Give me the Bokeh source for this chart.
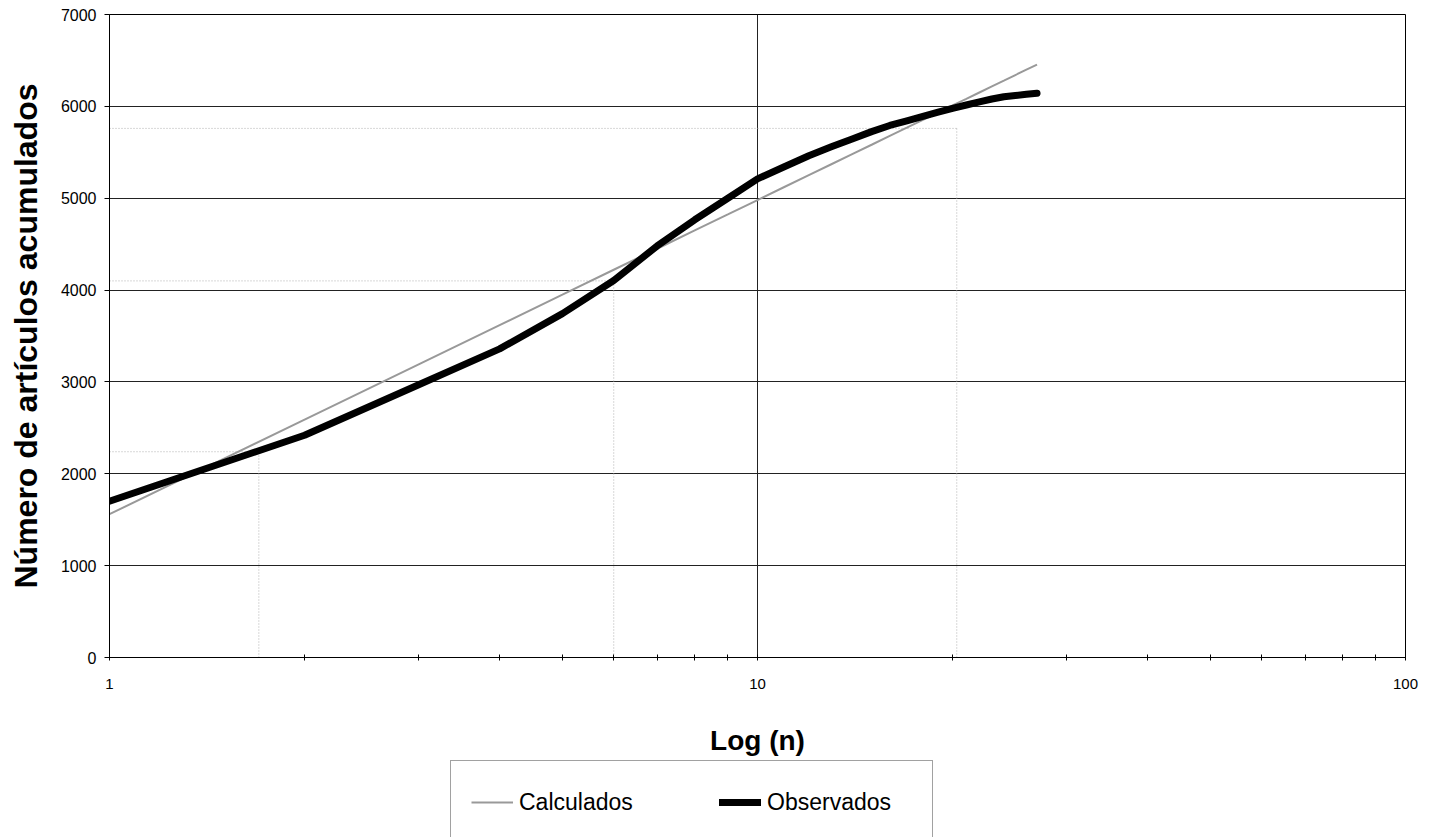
from bokeh.plotting import figure
from bokeh.models import Range1d, FixedTicker, Legend, LegendItem
from bokeh.layouts import column
from bokeh.embed import file_html
from bokeh.resources import INLINE

# ---- data ----
n_values = list(range(1, 28))
observados = [1701, 2420, 2970, 3360, 3744, 4104, 4480, 4765, 5000, 5211,
              5342, 5462, 5560, 5645, 5725, 5792, 5843, 5892, 5937, 5979,
              6015, 6048, 6080, 6105, 6118, 6131, 6143]
calculados = [1560, 2590, 3192, 3619, 3950, 4221, 4450, 4649, 4823, 4980,
              5122, 5251, 5370, 5480, 5582, 5678, 5768, 5853, 5933, 6010,
              6082, 6151, 6217, 6280, 6341, 6399, 6455]
ref_n = [1.7, 6.0, 20.3]
ref_y = [2240, 4100, 5760]
ref_x_start = [1, 1, 1]
ref_y_start = [0, 0, 0]
x_ticks = [1, 10, 100]
x_minor_ticks = [2, 3, 4, 5, 6, 7, 8, 9, 20, 30, 40, 50, 60, 70, 80, 90]
y_ticks = [0, 1000, 2000, 3000, 4000, 5000, 6000, 7000]
series_names = ["Calculados", "Observados"]

FONT = "Liberation Sans"
MAIN_H = 758

p = figure(width=1434, height=MAIN_H, x_axis_type="log",
           x_range=Range1d(1, 100), y_range=Range1d(0, 7000),
           output_backend="svg", toolbar_location=None,
           min_border_left=109, min_border_right=29,
           min_border_top=14, min_border_bottom=MAIN_H - 657)

p.outline_line_color = "black"
p.outline_line_width = 1
p.background_fill_color = "white"
p.border_fill_color = "white"

# axes
p.xaxis.ticker = FixedTicker(ticks=x_ticks, minor_ticks=x_minor_ticks)
p.yaxis.ticker = FixedTicker(ticks=y_ticks)
p.xaxis.major_label_overrides = {1: "1", 10: "10", 100: "100"}
for ax in (p.xaxis, p.yaxis):
    ax.axis_line_color = "black"
    ax.major_tick_line_color = "black"
    ax.minor_tick_line_color = "black"
    ax.major_label_text_font = FONT
    ax.major_label_text_color = "black"
    ax.axis_label_text_font = FONT
    ax.axis_label_text_font_style = "bold"
    ax.axis_label_text_color = "black"

p.xaxis.major_label_text_font_size = "15px"
p.xaxis.major_tick_in = 3
p.xaxis.major_tick_out = 3
p.xaxis.minor_tick_in = 3
p.xaxis.minor_tick_out = 3
p.xaxis.major_label_standoff = 18
p.xaxis.axis_label = "Log (n)"
p.xaxis.axis_label_text_font_size = "28px"
p.xaxis.axis_label_standoff = 33

p.yaxis.major_label_text_font_size = "16px"
p.yaxis.major_tick_in = 0
p.yaxis.major_tick_out = 5
p.yaxis.minor_tick_line_color = None
p.yaxis.major_label_standoff = 8
p.yaxis.axis_label = "Número de artículos acumulados"
p.yaxis.axis_label_text_font_size = "32px"
p.yaxis.axis_label_standoff = 14

# grid
p.xgrid.ticker = FixedTicker(ticks=[10])
p.xgrid.grid_line_color = "#222222"
p.ygrid.ticker = FixedTicker(ticks=y_ticks)
p.ygrid.grid_line_color = "#222222"

# dotted reference lines
p.segment(x0=ref_n, y0=ref_y_start, x1=ref_n, y1=ref_y,
          line_color="#b0b0b0", line_width=1, line_dash="1 2")
p.segment(x0=ref_x_start, y0=ref_y, x1=ref_n, y1=ref_y,
          line_color="#b0b0b0", line_width=1, line_dash="1 2")

# series
calc_style = dict(line_color="#999999", line_width=2)
obs_style = dict(line_color="black", line_width=7, line_cap="round", line_join="round")
p.line(n_values, calculados, **calc_style)
p.line(n_values, observados, **obs_style)

# ---- legend strip below the chart (its own canvas, so it is not clipped) ----
LEG_H = 837 - MAIN_H
p2 = figure(width=1434, height=LEG_H, output_backend="svg", toolbar_location=None,
            x_axis_type="log", x_axis_location=None, y_axis_location=None,
            min_border_left=0, min_border_right=0, min_border_top=0, min_border_bottom=0,
            x_range=Range1d(1, 100), y_range=Range1d(20000, 30000))
p2.grid.visible = False
p2.outline_line_color = None
p2.background_fill_color = "white"
p2.border_fill_color = "white"
# same series drawn outside this strip's visible range: only their legend glyphs show
l_calc = p2.line(n_values, calculados, **calc_style)
l_obs = p2.line(n_values, observados, **obs_style)

legend = Legend(items=[LegendItem(label=series_names[0], renderers=[l_calc]),
                       LegendItem(label=series_names[1], renderers=[l_obs])],
                orientation="horizontal")
legend.label_text_font = FONT
legend.label_text_font_size = "23px"
legend.label_text_color = "black"
legend.glyph_width = 42
legend.glyph_height = 42
legend.label_height = 42
legend.label_width = 145
legend.label_standoff = 6
legend.spacing = 55
legend.padding = 20
legend.margin = 0
legend.border_line_color = "#444444"
legend.border_line_width = 1
legend.background_fill_color = "white"
legend.background_fill_alpha = 1
legend.location = (341, -7)
p2.add_layout(legend, "center")

layout = column(p, p2, spacing=0)
open("out.html", "w").write(file_html(layout, INLINE))
